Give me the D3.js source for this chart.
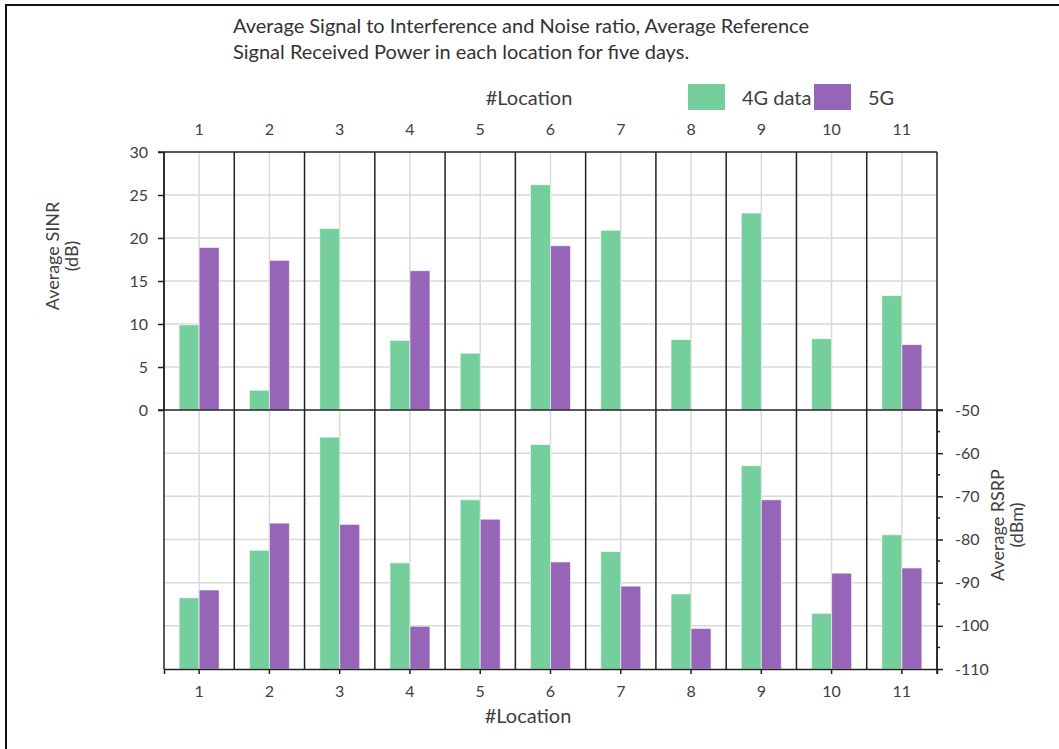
<!DOCTYPE html>
<html>
<head>
<meta charset="utf-8">
<script src="https://cdn.jsdelivr.net/npm/d3@7"></script>
<style>
  html, body { margin: 0; padding: 0; background: #fff; }
  svg { display: block; font-family: Lato, "Open Sans", sans-serif; }
</style>
</head>
<body>
<svg id="chart" width="1059" height="749"></svg>
<script>
// Locations and measured averages over five days
const locations = [1, 2, 3, 4, 5, 6, 7, 8, 9, 10, 11];
const seriesNames = ["4G data", "5G"];
const sinr4G = [9.9, 2.3, 21.1, 8.1, 6.6, 26.2, 20.9, 8.2, 22.9, 8.3, 13.3];
const sinr5G = [18.9, 17.4, null, 16.2, null, 19.1, null, null, null, null, 7.6];
const rsrp4G = [-93.5, -82.5, -56.3, -85.4, -70.8, -58.0, -82.8, -92.6, -62.9, -97.1, -78.9];
const rsrp5G = [-91.7, -76.2, -76.5, -100.1, -75.3, -85.2, -90.8, -100.6, -70.8, -87.8, -86.6];
const sinrTicks = [0, 5, 10, 15, 20, 25, 30];
const rsrpTicks = [-50, -60, -70, -80, -90, -100, -110];
const rsrpMinorTicks = [-55, -65, -75, -85, -95, -105];

const colors = { "4G data": "#74cf9c", "5G": "#9665b8" };
const textColor = "#404040";

const svg = d3.select("#chart");

// frame around the figure
svg.append("path")
  .attr("d", "M6,760 V5 H1070")
  .attr("fill", "none").attr("stroke", "#111").attr("stroke-width", 2);

const plotLeft = 164, plotRight = 937, plotTop = 152, plotMid = 410, plotBottom = 669;

const x = d3.scaleBand().domain(locations).range([plotLeft, plotRight]).paddingInner(0).paddingOuter(0);
const xSub = d3.scaleBand().domain(seriesNames).range([0, x.bandwidth()]).paddingInner(0).paddingOuter(0.757);
const ySinr = d3.scaleLinear().domain([0, 30]).range([plotMid, plotTop]);
const yRsrp = d3.scaleLinear().domain([-110, -50]).range([plotBottom, plotMid]);

// gridlines
const grid = svg.append("g").attr("stroke", "#d9d9d9").attr("stroke-width", 1.5);
grid.selectAll("line.hs").data(sinrTicks.slice(1, -1)).join("line")
  .attr("class", "hs")
  .attr("x1", plotLeft).attr("x2", plotRight)
  .attr("y1", d => ySinr(d)).attr("y2", d => ySinr(d));
grid.selectAll("line.hr").data(rsrpTicks.slice(1, -1)).join("line")
  .attr("class", "hr")
  .attr("x1", plotLeft).attr("x2", plotRight)
  .attr("y1", d => yRsrp(d)).attr("y2", d => yRsrp(d));
grid.selectAll("line.v").data(locations).join("line")
  .attr("class", "v")
  .attr("x1", d => x(d) + x.bandwidth() / 2).attr("x2", d => x(d) + x.bandwidth() / 2)
  .attr("y1", plotTop).attr("y2", plotBottom);

// bars
function barData(a, b) {
  const out = [];
  locations.forEach((loc, i) => {
    if (a[i] != null) out.push({ loc, s: "4G data", v: a[i] });
    if (b[i] != null) out.push({ loc, s: "5G", v: b[i] });
  });
  return out;
}

svg.append("g").selectAll("rect").data(barData(sinr4G, sinr5G)).join("rect")
  .attr("x", d => x(d.loc) + xSub(d.s))
  .attr("width", xSub.bandwidth())
  .attr("y", d => ySinr(d.v))
  .attr("height", d => ySinr(0) - ySinr(d.v))
  .attr("fill", d => colors[d.s])
  .attr("stroke", "rgba(255,255,255,0.6)").attr("stroke-width", 1);

svg.append("g").selectAll("rect").data(barData(rsrp4G, rsrp5G)).join("rect")
  .attr("x", d => x(d.loc) + xSub(d.s))
  .attr("width", xSub.bandwidth())
  .attr("y", d => yRsrp(d.v))
  .attr("height", d => yRsrp(-110) - yRsrp(d.v))
  .attr("fill", d => colors[d.s])
  .attr("stroke", "rgba(255,255,255,0.6)").attr("stroke-width", 1);

// location separators
const sep = svg.append("g").attr("stroke", "#222").attr("stroke-width", 1.5);
sep.selectAll("line.sep").data(d3.range(locations.length + 1)).join("line")
  .attr("class", "sep")
  .attr("x1", i => plotLeft + i * x.step()).attr("x2", i => plotLeft + i * x.step())
  .attr("y1", plotTop).attr("y2", plotBottom);
sep.append("line").attr("x1", plotLeft).attr("x2", plotRight).attr("y1", plotTop).attr("y2", plotTop);
sep.append("line").attr("x1", plotLeft).attr("x2", plotRight).attr("y1", plotMid).attr("y2", plotMid);

// left axis (SINR)
const axL = svg.append("g").attr("transform", `translate(${plotLeft},0)`)
  .call(d3.axisLeft(ySinr).tickValues(sinrTicks).tickSize(6).tickPadding(10));
// right axis (RSRP)
const axR = svg.append("g").attr("transform", `translate(${plotRight},0)`)
  .call(d3.axisRight(yRsrp).tickValues(rsrpTicks).tickSize(6).tickPadding(12).tickFormat(d => String(d)));
axR.selectAll(".minor").data(rsrpMinorTicks).join("line")
  .attr("class", "minor")
  .attr("x1", 0).attr("x2", 3)
  .attr("y1", d => yRsrp(d)).attr("y2", d => yRsrp(d))
  .attr("stroke", "#222").attr("stroke-width", 1.5);
axR.append("line").attr("x1", 0).attr("x2", 0).attr("y1", plotBottom).attr("y2", plotBottom + 5)
  .attr("stroke", "#222").attr("stroke-width", 1.5);
// bottom axis
const axB = svg.append("g").attr("transform", `translate(0,${plotBottom})`)
  .call(d3.axisBottom(x).tickSize(5).tickPadding(12));
// top axis: labels only
const axT = svg.append("g").attr("transform", `translate(0,${plotTop})`)
  .call(d3.axisTop(x).tickSize(0).tickPadding(17));
axT.select(".domain").remove();

[axL, axR, axB, axT].forEach(ax => {
  ax.select(".domain").attr("stroke", "#222").attr("stroke-width", 1.5);
  ax.selectAll(".tick line").attr("stroke", "#222").attr("stroke-width", 1.5);
  ax.selectAll(".tick text").attr("fill", textColor).style("font-size", "16px").style("font-family", "Lato, sans-serif");
});
axL.select(".domain").attr("d", `M-6,${plotTop}H0V${plotMid}H-6`);
axR.select(".domain").attr("d", `M6,${plotMid}H0V${plotBottom}`);
axR.selectAll(".tick text").attr("text-anchor", "start");

// axis titles
function multiLine(g, lines, lh) {
  const t = g.append("text").attr("text-anchor", "middle").attr("fill", textColor).style("font-size", "18px");
  lines.forEach((s, i) => t.append("tspan").attr("x", 0).attr("dy", i === 0 ? 0 : lh).text(s));
  return t;
}
multiLine(svg.append("g").attr("transform", "translate(59,256) rotate(-90)"), ["Average SINR", "(dB)"], 19);
multiLine(svg.append("g").attr("transform", "translate(1004,525) rotate(-90)"), ["Average RSRP", "(dBm)"], 19);

svg.append("text").attr("x", 528).attr("y", 723).attr("text-anchor", "middle")
  .attr("fill", textColor).style("font-size", "20px").text("#Location");
svg.append("text").attr("x", 529).attr("y", 105).attr("text-anchor", "middle")
  .attr("fill", textColor).style("font-size", "20px").text("#Location");

// legend
const legend = svg.append("g");
const legendX = { "4G data": 688, "5G": 814 };
seriesNames.forEach(s => {
  legend.append("rect").attr("x", legendX[s]).attr("y", 84).attr("width", 37).attr("height", 26)
    .attr("fill", colors[s]);
  legend.append("text").attr("x", legendX[s] + 54).attr("y", 105)
    .attr("fill", textColor).style("font-size", "20px").text(s);
});

// title
const title = svg.append("text").attr("x", 233).attr("y", 33).attr("fill", "#333").style("font-size", "20px");
title.append("tspan").attr("x", 233).text("Average Signal to Interference and Noise ratio, Average Reference");
title.append("tspan").attr("x", 233).attr("dy", 26).text("Signal Received Power in each location for five days.");
</script>
</body>
</html>
